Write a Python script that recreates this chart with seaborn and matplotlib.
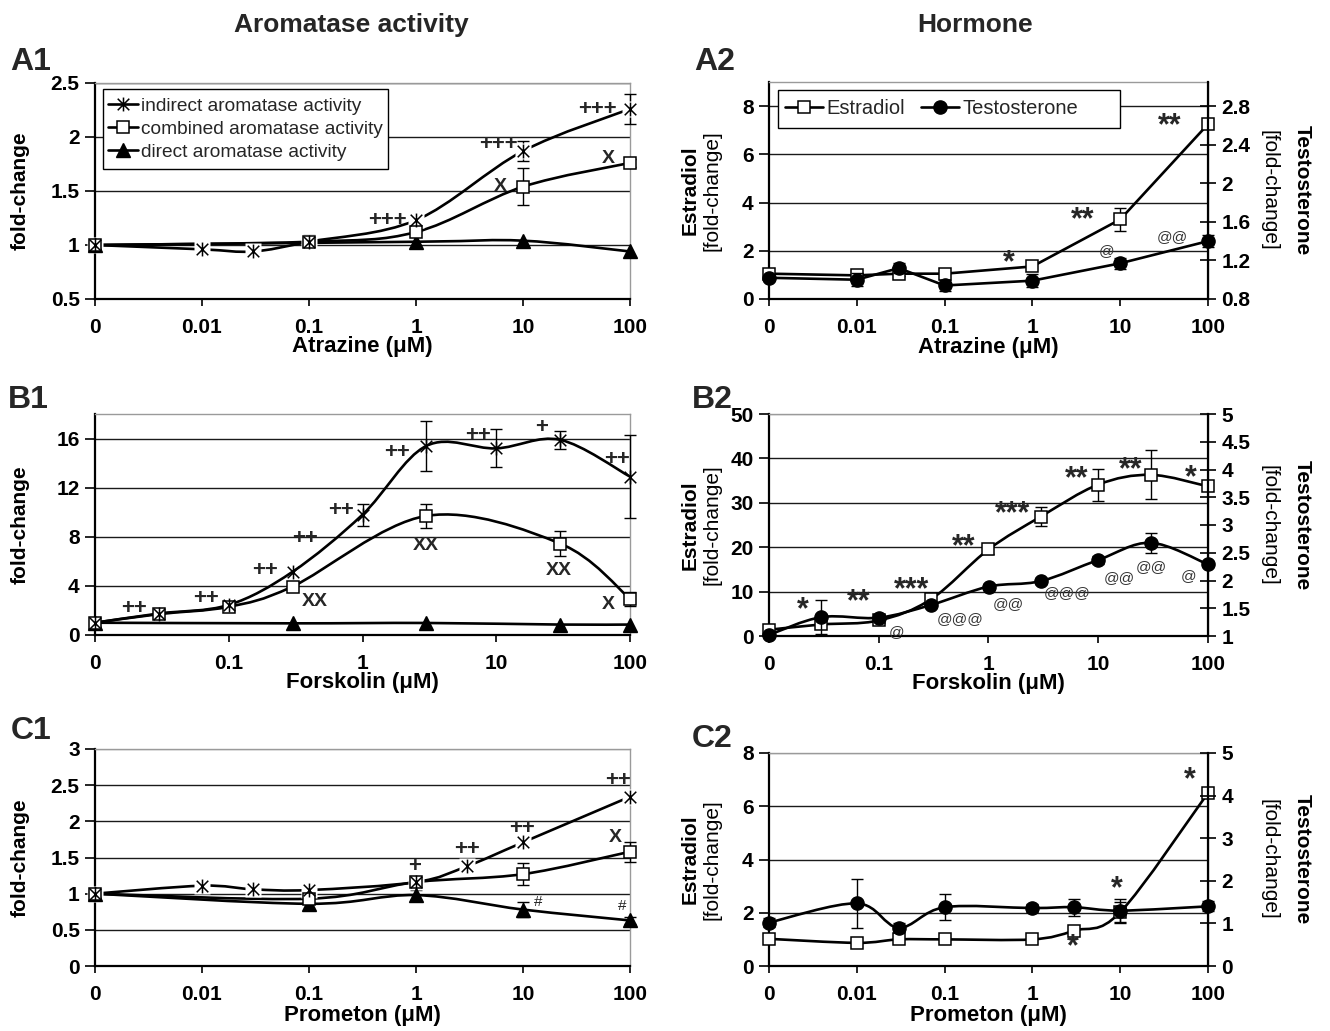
import numpy as np
import seaborn as sns
import matplotlib.pyplot as plt
from matplotlib.path import Path
from matplotlib.patches import PathPatch, Rectangle
from matplotlib.lines import Line2D

sns.set_theme(style="white")
plt.rcParams["font.family"] = ["Liberation Sans", "DejaVu Sans"]
plt.rcParams["font.weight"] = "bold"

# ---------------- data ----------------
atz_ticks = ["0", "0.01", "0.1", "1", "10", "100"]
fsk_ticks = ["0", "0.1", "1", "10", "100"]

# A1: atrazine, aromatase activity
a1_ind_conc = [0, 0.01, 0.03, 0.1, 1, 10, 100]
a1_ind = [1.0, 0.96, 0.94, 1.03, 1.23, 1.87, 2.26]
a1_ind_err = [0, 0, 0, 0.06, 0, 0.09, 0.14]
a1_comb_conc = [0, 0.1, 1, 10, 100]
a1_comb = [1.0, 1.03, 1.12, 1.54, 1.76]
a1_comb_err = [0, 0, 0, 0.17, 0.04]
a1_dir_conc = [0, 1, 10, 100]
a1_dir = [1.0, 1.03, 1.04, 0.94]

# A2: atrazine, hormones
a2_conc = [0, 0.01, 0.03, 0.1, 1, 10, 100]
a2_e2 = [1.05, 0.98, 1.05, 1.05, 1.35, 3.3, 7.25]
a2_e2_err = [0, 0.1, 0.1, 0, 0, 0.48, 0]
a2_t = [1.02, 1.0, 1.12, 0.94, 0.99, 1.17, 1.40]
a2_t_err = [0, 0.07, 0.05, 0.06, 0.07, 0.06, 0.06]

# B1: forskolin, aromatase activity
b1_ind_conc = [0, 0.03, 0.1, 0.3, 1, 3, 10, 30, 100]
b1_ind = [1.0, 1.75, 2.45, 5.15, 9.8, 15.4, 15.2, 15.9, 12.9]
b1_ind_err = [0, 0, 0, 0, 0.9, 2.05, 1.55, 0.75, 3.4]
b1_comb_conc = [0, 0.03, 0.1, 0.3, 3, 30, 100]
b1_comb = [1.0, 1.7, 2.3, 3.95, 9.7, 7.45, 2.95]
b1_comb_err = [0, 0, 0, 0, 1.0, 1.0, 0.55]
b1_dir_conc = [0, 0.3, 3, 30, 100]
b1_dir = [1.0, 0.95, 0.98, 0.85, 0.85]

# B2: forskolin, hormones
b2_conc = [0, 0.03, 0.1, 0.3, 1, 3, 10, 30, 100]
b2_e2 = [1.4, 2.6, 3.5, 8.3, 19.5, 26.9, 34.1, 36.3, 33.7]
b2_e2_err = [0, 0, 0.6, 0, 1.0, 2.1, 3.6, 5.5, 0]
b2_t = [1.02, 1.34, 1.33, 1.56, 1.89, 1.99, 2.37, 2.68, 2.29]
b2_t_err = [0, 0.30, 0.05, 0, 0.05, 0.05, 0.08, 0.18, 0]

# C1: prometon, aromatase activity
c1_ind_conc = [0, 0.01, 0.03, 0.1, 1, 3, 10, 100]
c1_ind = [1.0, 1.11, 1.06, 1.05, 1.16, 1.38, 1.71, 2.34]
c1_comb_conc = [0, 0.1, 1, 10, 100]
c1_comb = [1.0, 0.93, 1.16, 1.27, 1.58]
c1_comb_err = [0, 0, 0.04, 0.15, 0.14]
c1_dir_conc = [0, 0.1, 1, 10, 100]
c1_dir = [1.0, 0.86, 0.98, 0.78, 0.63]
c1_dir_err = [0, 0, 0.07, 0.1, 0.05]

# C2: prometon, hormones
c2_conc = [0, 0.01, 0.03, 0.1, 1, 3, 10, 100]
c2_e2 = [1.02, 0.87, 1.0, 1.0, 1.0, 1.33, 2.02, 6.5]
c2_e2_err = [0, 0, 0, 0, 0, 0, 0.4, 0]
c2_t = [1.02, 1.47, 0.90, 1.38, 1.36, 1.38, 1.30, 1.40]
c2_t_err = [0.1, 0.58, 0.1, 0.3, 0.1, 0.2, 0.27, 0.12]

# ---------------- helpers ----------------
STAR = Path([(-1, -1), (1, 1), (-1, 1), (1, -1), (0, -1.2), (0, 1.2)],
            [Path.MOVETO, Path.LINETO, Path.MOVETO, Path.LINETO, Path.MOVETO, Path.LINETO])
MARKERS = {
    "star": dict(marker=STAR, ms=10, mfc="none", mec="black", mew=1.1),
    "square": dict(marker="s", ms=8.5, mfc="white", mec="black", mew=1.1),
    "tri": dict(marker="^", ms=10, mfc="black", mec="black"),
    "circle": dict(marker="o", ms=9.5, mfc="black", mec="black"),
}
LW = 1.9
GRAY = "#9a9a9a"


def to_pos(conc, offset):
    # log-spaced category axis, 0 sits at position 0
    return np.array([0.0 if c == 0 else np.log10(c) + offset for c in conc])


def smooth_path(x, y):
    pts = np.column_stack([x, y])
    n = len(pts)
    verts, codes = [pts[0]], [Path.MOVETO]
    for i in range(n - 1):
        p0 = pts[i - 1] if i > 0 else pts[i]
        p1, p2 = pts[i], pts[i + 1]
        p3 = pts[i + 2] if i + 2 < n else pts[i + 1]
        verts += [p1 + (p2 - p0) / 6, p2 - (p3 - p1) / 6, p2]
        codes += [Path.CURVE4] * 3
    return Path(verts, codes)


def draw(ax, conc, vals, err, offset, marker, smooth=True, halo=False):
    x = to_pos(conc, offset)
    y = np.array(vals, float)
    if smooth:
        ax.add_patch(PathPatch(smooth_path(x, y), fill=False, ec="black", lw=LW, zorder=3))
    else:
        sns.lineplot(x=x, y=y, ax=ax, color="black", lw=LW, sort=False, estimator=None, zorder=3)
    if err is not None:
        e = np.array(err, float)
        m = e > 0
        ax.errorbar(x[m], y[m], yerr=e[m], fmt="none", ecolor="black", elinewidth=1.0,
                    capsize=4.5, capthick=1.0, zorder=4, clip_on=False)
    if halo:
        ax.plot(x, y, ls="none", marker="s", ms=12, mfc="white", mec="none", zorder=5, clip_on=False)
    ax.plot(x, y, ls="none", zorder=6, clip_on=False, **MARKERS[marker])


W, H = 1330, 1031


def rect(l, r, t, b):
    return [l / W, 1 - b / H, (r - l) / W, (b - t) / H]


def style(ax, ylim, yticks, ticklabels, xlabel, xlab_off, gray_top=False):
    n = len(ticklabels) - 1
    ax.set_xlim(0, n)
    ax.set_ylim(*ylim)
    ax.set_yticks(yticks)
    ax.set_yticklabels([f"{v:g}" for v in yticks])
    ax.set_xticks(range(n + 1))
    ax.set_xticklabels(ticklabels)
    ax.yaxis.grid(True, color="#1a1a1a", lw=1.0)
    ax.xaxis.grid(False)
    ax.set_axisbelow(True)
    if gray_top:
        ax.get_ygridlines()[-1].set_color(GRAY)
    for s in ["left", "bottom"]:
        ax.spines[s].set(color="black", lw=1.6)
    for s in ["top", "right"]:
        ax.spines[s].set(color=GRAY, lw=1.0)
    ax.tick_params(axis="x", direction="out", length=5, width=1.2, pad=9, labelsize=15,
                   colors="black", bottom=True)
    ax.tick_params(axis="y", direction="out", length=7, width=1.2, pad=4, labelsize=15,
                   colors="black", left=True)
    ax.set_xlabel(xlabel, fontsize=16, fontweight="bold", color="black")
    ax.xaxis.set_label_coords(0.5, xlab_off)
    ax.xaxis.label.set_va("center")


def twin(ax, ylim, yticks):
    ax2 = ax.twinx()
    ax2.set_ylim(*ylim)
    ax2.set_yticks(yticks)
    ax2.set_yticklabels([f"{v:g}" for v in yticks])
    ax2.grid(False)
    for s in ["left", "top", "bottom"]:
        ax2.spines[s].set_visible(False)
    ax2.spines["right"].set(color="black", lw=1.6)
    ax2.tick_params(axis="y", direction="inout", length=11, width=1.2, pad=4, labelsize=15,
                    colors="black", right=True)
    return ax2


def hormone_labels(ax):
    kw = dict(transform=ax.transAxes, ha="center", va="center", fontsize=15, color="black")
    ax.text(-0.18, 0.5, "Estradiol", rotation=90, fontweight="bold", **kw)
    ax.text(-0.13, 0.5, "[fold-change]", rotation=90, fontweight="normal", **kw)
    ax.text(1.14, 0.5, "[fold-change]", rotation=-90, fontweight="normal", **kw)
    ax.text(1.215, 0.5, "Testosterone", rotation=-90, fontweight="bold", **kw)


def note(ax, x, y, s, kind="b"):
    if kind == "b":
        ax.text(x, y, s, ha="center", va="center", fontsize=16, fontweight="bold", zorder=7)
    elif kind == "s":
        ax.text(x, y, s, ha="center", va="center", fontsize=22, fontweight="bold", zorder=7)
    elif kind == "x":
        ax.text(x, y, s, ha="center", va="center", fontsize=14, fontweight="bold", zorder=7)
    elif kind == "@":
        ax.text(x, y, s, ha="center", va="center", fontsize=11, fontweight="normal",
                color="#333333", zorder=7)
    else:
        ax.text(x, y, s, ha="center", va="center", fontsize=11, fontweight="normal", zorder=7)


def frame(ax, x0, x1, y0, y1):
    ax.add_patch(Rectangle((x0, y0), x1 - x0, y1 - y0, transform=ax.transAxes, fc="white",
                           ec="black", lw=1.0, zorder=9, clip_on=False))


fig = plt.figure(figsize=(W / 100, H / 100), dpi=100)

LEFT = (95, 630)
RIGHT = (769, 1208)

# ---------------- A1 ----------------
ax = fig.add_axes(rect(*LEFT, 83, 299))
style(ax, (0.5, 2.5), [0.5, 1, 1.5, 2, 2.5], atz_ticks, "Atrazine (\u03bcM)", -0.222)
ax.set_ylabel("fold-change", fontsize=15, fontweight="bold", color="black")
ax.yaxis.set_label_coords(-0.123, 0.5)
draw(ax, a1_dir_conc, a1_dir, None, 3, "tri")
draw(ax, a1_comb_conc, a1_comb, a1_comb_err, 3, "square")
draw(ax, a1_ind_conc, a1_ind, a1_ind_err, 3, "star", halo=True)
for x, y, s in [(2.73, 1.23, "+++"), (3.77, 1.93, "+++"), (4.70, 2.25, "+++")]:
    note(ax, x, y, s)
for x, y, s in [(3.79, 1.54, "X"), (4.80, 1.80, "X")]:
    note(ax, x, y, s, "x")
frame(ax, 0.015, 0.548, 0.602, 0.972)
h_ind = Line2D([], [], color="black", lw=LW, **MARKERS["star"])
h_comb = Line2D([], [], color="black", lw=LW, **MARKERS["square"])
h_dir = Line2D([], [], color="black", lw=LW, **MARKERS["tri"])
leg = ax.legend([h_ind, h_comb, h_dir],
                ["indirect aromatase activity", "combined aromatase activity", "direct aromatase activity"],
                loc="center left", bbox_to_anchor=(0.024, 0.787), borderaxespad=0, frameon=False,
                prop=dict(size=13.8, weight="normal"), handlelength=1.55, handletextpad=0.2,
                labelspacing=0.3, borderpad=0)
leg.set_zorder(10)

# ---------------- A2 ----------------
ax = fig.add_axes(rect(*RIGHT, 82, 299))
style(ax, (0, 9), [0, 2, 4, 6, 8], atz_ticks, "Atrazine (\u03bcM)", -0.222)
ax2 = twin(ax, (0.8, 3.05), [0.8, 1.2, 1.6, 2.0, 2.4, 2.8])
hormone_labels(ax)
draw(ax, a2_conc, a2_e2, a2_e2_err, 3, "square", smooth=False)
draw(ax2, a2_conc, a2_t, a2_t_err, 3, "circle", smooth=False)
for x, y, s in [(2.73, 1.5, "*"), (3.57, 3.27, "**"), (4.56, 7.17, "**")]:
    note(ax, x, y, s, "s")
for x, y, s in [(3.84, 2.0, "@"), (4.59, 2.56, "@@")]:
    note(ax, x, y, s, "@")
frame(ax2, 0.0205, 0.80, 0.788, 0.963)
h_e2 = Line2D([], [], color="black", lw=LW, **MARKERS["square"])
h_t = Line2D([], [], color="black", lw=LW, **MARKERS["circle"])
leg = ax2.legend([h_e2, h_t], ["Estradiol", "Testosterone"], loc="center left", ncol=2,
                 bbox_to_anchor=(0.036, 0.876), borderaxespad=0, frameon=False,
                 prop=dict(size=14.5, weight="normal"), handlelength=1.9, handletextpad=0.15,
                 columnspacing=0.8, borderpad=0)
leg.set_zorder(10)

# ---------------- B1 ----------------
ax = fig.add_axes(rect(*LEFT, 414, 635))
style(ax, (0, 18), [0, 4, 8, 12, 16], fsk_ticks, "Forskolin (\u03bcM)", -0.214)
ax.set_ylabel("fold-change", fontsize=15, fontweight="bold", color="black")
ax.yaxis.set_label_coords(-0.123, 0.5)
draw(ax, b1_dir_conc, b1_dir, None, 2, "tri")
draw(ax, b1_comb_conc, b1_comb, b1_comb_err, 2, "square")
draw(ax, b1_ind_conc, b1_ind, b1_ind_err, 2, "star")
for x, y, s in [(0.29, 2.18, "++"), (0.83, 2.99, "++"), (1.27, 5.22, "++"), (1.57, 7.84, "++"),
                (1.84, 10.12, "++"), (2.26, 14.88, "++"), (2.86, 16.24, "++"), (3.34, 16.87, "+"),
                (3.90, 14.29, "++")]:
    note(ax, x, y, s)
for x, y, s in [(1.64, 2.72, "XX"), (2.47, 7.29, "XX"), (3.47, 5.22, "XX"), (3.84, 2.45, "X")]:
    note(ax, x, y, s, "x")

# ---------------- B2 ----------------
ax = fig.add_axes(rect(*RIGHT, 414, 636))
style(ax, (0, 50), [0, 10, 20, 30, 40, 50], fsk_ticks, "Forskolin (\u03bcM)", -0.212, gray_top=True)
ax2 = twin(ax, (1, 5), [1, 1.5, 2, 2.5, 3, 3.5, 4, 4.5, 5])
hormone_labels(ax)
draw(ax, b2_conc, b2_e2, b2_e2_err, 2, "square")
draw(ax2, b2_conc, b2_t, b2_t_err, 2, "circle")
for x, y, s in [(0.31, 5.86, "*"), (0.82, 7.52, "**"), (1.30, 10.4, "***"), (1.77, 20.0, "**"),
                (2.22, 27.5, "***"), (2.80, 35.3, "**"), (3.30, 37.4, "**"), (3.84, 35.6, "*")]:
    note(ax, x, y, s, "s")
for x, y, s in [(1.16, 0.83, "@"), (1.74, 3.83, "@@@"), (2.18, 7.2, "@@"), (2.72, 9.77, "@@@"),
                (3.19, 13.0, "@@"), (3.48, 15.6, "@@"), (3.82, 13.6, "@")]:
    note(ax, x, y, s, "@")

# ---------------- C1 ----------------
ax = fig.add_axes(rect(*LEFT, 749, 966))
style(ax, (0, 3), [0, 0.5, 1, 1.5, 2, 2.5, 3], atz_ticks, "Prometon (\u03bcM)", -0.226, gray_top=True)
ax.set_ylabel("fold-change", fontsize=15, fontweight="bold", color="black")
ax.yaxis.set_label_coords(-0.123, 0.5)
draw(ax, c1_dir_conc, c1_dir, c1_dir_err, 3, "tri")
draw(ax, c1_comb_conc, c1_comb, c1_comb_err, 3, "square")
draw(ax, c1_ind_conc, c1_ind, None, 3, "star", halo=True)
for x, y, s in [(2.99, 1.37, "+"), (3.48, 1.61, "++"), (3.99, 1.90, "++"), (4.89, 2.56, "++")]:
    note(ax, x, y, s)
note(ax, 4.86, 1.77, "X", "x")
for x, y in [(4.14, 0.89), (4.93, 0.83)]:
    note(ax, x, y, "#", "#")

# ---------------- C2 ----------------
ax = fig.add_axes(rect(*RIGHT, 753, 966))
style(ax, (0, 8), [0, 2, 4, 6, 8], atz_ticks, "Prometon (\u03bcM)", -0.232, gray_top=True)
ax2 = twin(ax, (0, 5), [0, 1, 2, 3, 4, 5])
hormone_labels(ax)
draw(ax, c2_conc, c2_e2, c2_e2_err, 3, "square")
draw(ax2, c2_conc, c2_t, c2_t_err, 3, "circle")
for x, y in [(4.79, 6.97), (3.46, 0.70), (3.96, 2.89)]:
    note(ax, x, y, "*", "s")

# ---------------- titles and panel letters ----------------
fig.text(351 / W, 1 - 25 / H, "Aromatase activity", ha="center", va="center", fontsize=19, fontweight="bold")
fig.text(975 / W, 1 - 25 / H, "Hormone", ha="center", va="center", fontsize=19, fontweight="bold")
for x, y, s in [(10, 62, "A1"), (694, 62, "A2"), (8, 400, "B1"), (692, 400, "B2"),
                (11, 731, "C1"), (692, 739, "C2")]:
    fig.text(x / W, 1 - y / H, s, ha="left", va="center", fontsize=23, fontweight="bold")

fig.savefig("out.png", dpi=100)
